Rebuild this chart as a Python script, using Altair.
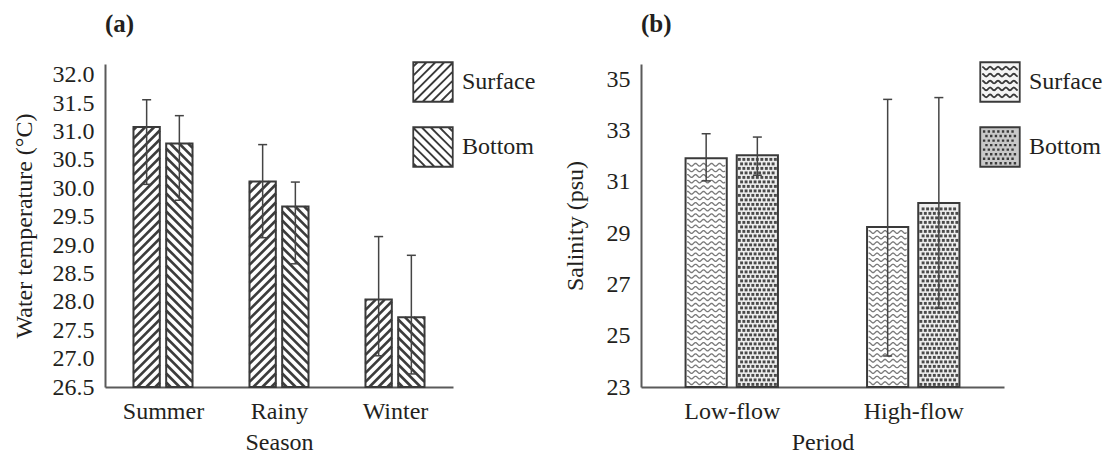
import numpy as np
import pandas as pd
import altair as alt

# ---------------- data ----------------
series = ["Surface", "Bottom"]

seasons = ["Summer", "Rainy", "Winter"]
temp_surface = [31.08, 30.12, 28.04]
temp_surface_low = [30.07, 29.13, 27.05]
temp_surface_high = [31.56, 30.77, 29.15]
temp_bottom = [30.79, 29.68, 27.73]
temp_bottom_low = [29.79, 28.67, 26.73]
temp_bottom_high = [31.28, 30.11, 28.82]
temp_ticks = [26.5, 27.0, 27.5, 28.0, 28.5, 29.0, 29.5, 30.0, 30.5, 31.0, 31.5, 32.0]

periods = ["Low-flow", "High-flow"]
sal_surface = [31.92, 29.24]
sal_surface_low = [31.04, 24.21]
sal_surface_high = [32.88, 34.22]
sal_bottom = [32.04, 30.18]
sal_bottom_low = [31.26, 26.07]
sal_bottom_high = [32.75, 34.29]
sal_ticks = [23, 25, 27, 29, 31, 33, 35]

# ---------------- layout / style constants ----------------
FONT = "Liberation Serif"
INK = "#231f20"
EDGE = "#3a3a3a"
AXIS = "#5a5a5a"
A_W, A_H, A_Y = 348, 323, (26.5, 32.19)
B_W, B_H, B_Y = 363, 323, (23.0, 35.6)
BAR_W = 0.227
BAR_OFF = 0.141


def bar_table(cats, s, s_lo, s_hi, b, b_lo, b_hi):
    rows = []
    for i, c in enumerate(cats):
        for name, sign, v, lo, hi in (("Surface", -1, s[i], s_lo[i], s_hi[i]),
                                      ("Bottom", 1, b[i], b_lo[i], b_hi[i])):
            xc = i + sign * BAR_OFF
            rows.append({"cat": c, "series": name, "xc": xc,
                         "x0": xc - BAR_W / 2, "x1": xc + BAR_W / 2,
                         "value": v, "lo": lo, "hi": hi})
    return pd.DataFrame(rows)


def hatch(df, base, sx, sy, period=9.0):
    rows = []
    for r in df.itertuples():
        w = (r.x1 - r.x0) * sx
        h = (r.value - base) * sy
        up = r.series == "Surface"
        cs = np.arange(-w + period / 2, h, period) if up else np.arange(period / 2, w + h, period)
        for c in cs:
            if up:
                u0, u1 = max(0.0, -c), min(w, h - c)
                v0, v1 = u0 + c, u1 + c
            else:
                u0, u1 = max(0.0, c - h), min(w, c)
                v0, v1 = c - u0, c - u1
            if u1 - u0 < 0.8:
                continue
            rows.append({"xa": r.x0 + u0 / sx, "xb": r.x0 + u1 / sx,
                         "ya": base + v0 / sy, "yb": base + v1 / sy})
    return pd.DataFrame(rows)


def waves(df, base, sx, sy, gap=5.6, wl=8.0, amp=1.4):
    rows = []
    lid = 0
    for r in df[df.series == "Surface"].itertuples():
        w = (r.x1 - r.x0) * sx
        h = (r.value - base) * sy
        for v in np.arange(gap / 2 + 1, h - 2, gap):
            for u in np.arange(1.5, w - 1.4, 1.0):
                rows.append({"lid": lid, "x": r.x0 + u / sx,
                             "y": base + (v + amp * np.sin(2 * np.pi * u / wl)) / sy})
            lid += 1
    return pd.DataFrame(rows)


def dots(df, base, sx, sy, step=4.5):
    rows = []
    for r in df[df.series == "Bottom"].itertuples():
        w = (r.x1 - r.x0) * sx
        h = (r.value - base) * sy
        for j, v in enumerate(np.arange(2.6, h - 2, step)):
            off = (j % 2) * step / 2
            for u in np.arange(2.6 + off, w - 2, step):
                rows.append({"x": r.x0 + u / sx, "y": base + v / sy})
    return pd.DataFrame(rows)


SQ = "M-1,-1H1V1H-1Z"


def stripe_symbol(up, step=0.45):
    parts = [SQ]
    for c in np.arange(-2 + step / 2, 2, step):
        if up:
            x0, x1 = max(-1, c - 1), min(1, c + 1)
            y0, y1 = c - x0, c - x1
        else:
            x0, x1 = max(-1, -1 - c), min(1, 1 - c)
            y0, y1 = x0 + c, x1 + c
        if x1 - x0 > 0.05:
            parts.append(f"M{x0:.3f},{y0:.3f}L{x1:.3f},{y1:.3f}")
    return "".join(parts)


def wave_symbol():
    parts = [SQ]
    for y0 in np.arange(-0.7, 0.8, 0.35):
        pts = [(x, y0 + 0.07 * np.sin(2 * np.pi * x / 0.4)) for x in np.arange(-0.9, 0.91, 0.05)]
        parts.append("M" + "L".join(f"{x:.3f},{y:.3f}" for x, y in pts))
    return "".join(parts)


def dot_symbol():
    parts = [SQ]
    for j, y in enumerate(np.arange(-0.8, 0.82, 0.23)):
        off = (j % 2) * 0.12
        for x in np.arange(-0.82 + off, 0.82, 0.24):
            parts.append(f"M{x:.3f},{y:.3f}h0.03v0.03h-0.03Z")
    return "".join(parts)


def panel(df, cats, yticks, ydom, W, H, xtitle, ytitle, tag, bar_fills, sym_fills,
          sym_paths, legend_x, ytitle_pad, yfmt, kind):
    sx = W / len(cats)
    sy = H / (ydom[1] - ydom[0])
    base_y = ydom[0]
    label_expr = "[" + ",".join(f"'{c}'" for c in cats) + "][datum.value]"
    common = dict(grid=False, ticks=False, tickSize=0, domainColor=AXIS, domainWidth=2,
                  labelFont=FONT, labelFontSize=24, labelColor=INK,
                  titleFont=FONT, titleFontSize=24, titleFontWeight="normal", titleColor=INK)
    xaxis = alt.Axis(values=list(range(len(cats))), labelExpr=label_expr,
                     labelPadding=12, titlePadding=7, **common)
    yaxis = alt.Axis(values=yticks, format=yfmt, labelPadding=11,
                     titlePadding=ytitle_pad, **common)
    xs = alt.Scale(domain=[-0.5, len(cats) - 0.5], nice=False, zero=False)
    ys = alt.Scale(domain=list(ydom), nice=False, zero=False)

    def X(f):
        return alt.X(f"{f}:Q", scale=xs, axis=xaxis, title=xtitle)

    def Y(f):
        return alt.Y(f"{f}:Q", scale=ys, axis=yaxis, title=ytitle)

    base = alt.Chart(df)
    fill_cond = alt.condition(alt.datum.series == "Surface",
                              alt.value(bar_fills[0]), alt.value(bar_fills[1]))
    bg = base.mark_rect(strokeWidth=0).encode(
        x=X("x0"), x2="x1", y=Y("value"), y2=alt.datum(base_y), fill=fill_cond)

    layers = [bg]
    if kind == "hatch":
        hd = hatch(df, base_y, sx, sy)
        layers.append(alt.Chart(hd).mark_rule(color="#3c3c3c", strokeWidth=2.6).encode(
            x=X("xa"), x2="xb", y=Y("ya"), y2="yb"))
    else:
        wd = waves(df, base_y, sx, sy)
        layers.append(alt.Chart(wd).mark_line(color="#7a7a7a", strokeWidth=1.3).encode(
            x=X("x"), y=Y("y"), detail="lid:N"))
        dd = dots(df, base_y, sx, sy)
        layers.append(alt.Chart(dd).mark_square(color="#4a4a4a", size=8.5, opacity=1).encode(
            x=X("x"), y=Y("y")))

    outline = base.mark_rect(fill="transparent", stroke=EDGE, strokeWidth=2).encode(
        x=X("x0"), x2="x1", y=Y("value"), y2=alt.datum(base_y))
    err = base.mark_rule(color="#444444", strokeWidth=1.5).encode(x=X("xc"), y=Y("lo"), y2="hi")
    cap_hi = base.mark_tick(orient="horizontal", size=9, thickness=1.5, color="#444444",
                            opacity=1).encode(x=X("xc"), y=Y("hi"))
    cap_lo = base.mark_tick(orient="horizontal", size=9, thickness=1.5, color="#444444",
                            opacity=1).encode(x=X("xc"), y=Y("lo"))

    leg = alt.Legend(title=None, orient="none", legendX=legend_x, legendY=-3, padding=0,
                     symbolSize=1560, symbolStrokeColor=EDGE, symbolStrokeWidth=1.8,
                     labelFont=FONT, labelFontSize=24, labelColor=INK, labelOffset=8,
                     rowPadding=17, labelLimit=300)
    legend_layer = base.transform_filter("false").mark_point(
        filled=True, opacity=1, stroke=EDGE, strokeWidth=1.8).encode(
        x=X("xc"), y=Y("value"),
        color=alt.Color("series:N", scale=alt.Scale(domain=series, range=sym_fills), legend=leg),
        shape=alt.Shape("series:N", scale=alt.Scale(domain=series, range=sym_paths), legend=leg))

    layers += [outline, err, cap_hi, cap_lo, legend_layer]
    return alt.layer(*layers).properties(
        width=W, height=H,
        title=alt.TitleParams(tag, anchor="start", frame="group", font=FONT, fontSize=25,
                              fontWeight="bold", color=INK, offset=24))


df_a = bar_table(seasons, temp_surface, temp_surface_low, temp_surface_high,
                 temp_bottom, temp_bottom_low, temp_bottom_high)
df_b = bar_table(periods, sal_surface, sal_surface_low, sal_surface_high,
                 sal_bottom, sal_bottom_low, sal_bottom_high)

pa = panel(df_a, seasons, temp_ticks, A_Y, A_W, A_H, "Season", "Water temperature (°C)", "(a)",
           ["#ffffff", "#ffffff"], ["#ffffff", "#ffffff"],
           [stripe_symbol(True), stripe_symbol(False)], 307, 16, ".1f", "hatch")
pb = panel(df_b, periods, sal_ticks, B_Y, B_W, B_H, "Period", "Salinity (psu)", "(b)",
           ["#ffffff", "#eeeeee"], ["#f4f4f4", "#c8c8c8"],
           [wave_symbol(), dot_symbol()], 338, 19, "d", "texture")

chart = alt.hconcat(pa, pb, spacing=188, bounds="flush").resolve_scale(
    color="independent", shape="independent").configure_view(strokeWidth=0).properties(
    padding={"left": 12, "top": 12, "right": 0, "bottom": 0}, background="white")

chart.save("out.html", embed_options={"renderer": "svg", "actions": False})
